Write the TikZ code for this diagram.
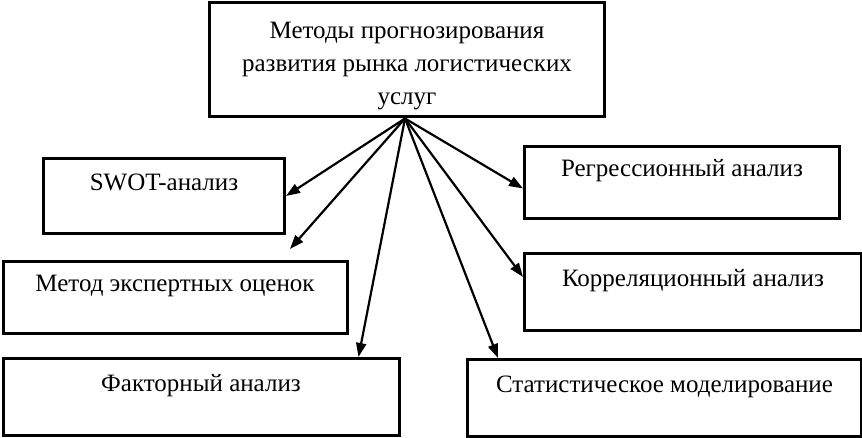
\documentclass[tikz,border=0pt]{standalone}
\usepackage{fontspec}
\setmainfont{Liberation Serif}
\usetikzlibrary{arrows.meta}

\tikzset{
	box/.style={draw, line width=3pt, anchor=north west, inner sep=0pt,
		font=\fontsize{25}{33}\selectfont},
	onebox/.style={box, text height=17pt, text depth=28pt},
	arr/.style={line width=2.2pt, -{Triangle[length=14pt,width=10pt]}}
}

\begin{document}
\begin{tikzpicture}[x=1pt,y=-1pt]
\useasboundingbox (0,0) rectangle (862,438);
\node[box, align=center, minimum width=395pt, minimum height=114pt] (top) at (208,1.5)
	{\rule{0pt}{28pt}Методы прогнозирования\\развития рынка логистических\\услуг};
\node[onebox, minimum width=241pt, minimum height=75pt] (swot) at (42,157) {SWOT-анализ};
\node[onebox, minimum width=344pt, minimum height=72pt] (expert) at (1.5,260) {Метод экспертных оценок};
\node[onebox, minimum width=396pt, minimum height=77pt] (factor) at (1.5,357) {Факторный анализ};
\node[onebox, minimum width=315pt, minimum height=72pt] (regr) at (523,145) {Регрессионный анализ};
\node[onebox, minimum width=337pt, minimum height=77pt] (corr) at (523,252) {Корреляционный анализ};
\node[onebox, minimum width=394pt, minimum height=77pt] (stat) at (466,358) {Статистическое моделирование};
\coordinate (expertend) at (290,249);
% fan of arrows from the top box
\draw[arr] ([xshift=-2pt]top.south) -- (swot.east);
\draw[arr] ([xshift=-2pt]top.south) -- (expertend);
\draw[arr] ([xshift=-2pt]top.south) -- ([xshift=-42pt]factor.north east);
\draw[arr] ([xshift=-2pt]top.south) -- ([xshift=32pt]stat.north west);
\draw[arr] ([xshift=-2pt]top.south) -- ([yshift=-25pt]corr.north west);
\draw[arr] ([xshift=-2pt]top.south) -- ([yshift=-6pt]regr.west);
\end{tikzpicture}
\end{document}
